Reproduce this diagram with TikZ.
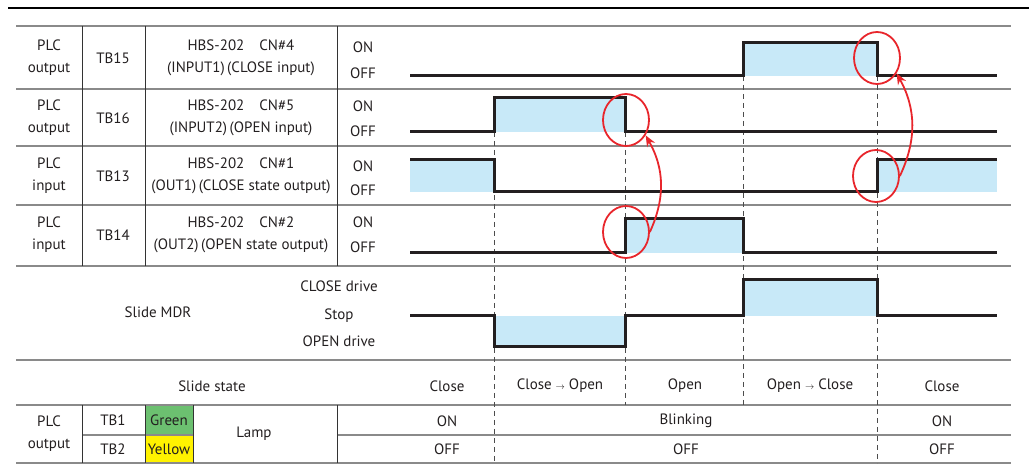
\documentclass[tikz,border=0pt]{standalone}
\usepackage{fontspec}
\setmainfont{PT Sans}
\usepackage{xcolor}
\usetikzlibrary{arrows.meta,shapes,calc,positioning}
\definecolor{sigfill}{HTML}{C8E9F8}
\definecolor{gridgray}{HTML}{8A8A8A}
\definecolor{lampgreen}{HTML}{6CC070}
\definecolor{lampyellow}{HTML}{FFF200}
\definecolor{ringred}{HTML}{E8262C}
\definecolor{inkblack}{HTML}{231F20}

\begin{document}
\begin{tikzpicture}[x=1pt,y=-1pt,
  txt/.style={font=\fontsize{15}{22}\selectfont, text=inkblack, inner sep=0pt, align=center},
  grid/.style={gridgray, line width=1.1pt},
  col/.style={black!80, line width=1pt},
  sig/.style={inkblack, line width=3pt},
  tick/.style={black!70, line width=0.9pt, dash pattern=on 5pt off 4pt},
  ring/.style={draw=ringred, line width=1.8pt, ellipse, minimum width=46pt, minimum height=52pt, inner sep=0pt},
  cause/.style={ringred, line width=1.8pt, -{Stealth[length=11pt,width=9pt]}}]
  \useasboundingbox (0,0) rectangle (1029,470);
  % Heading rule
  \draw[black, line width=2.5pt] (8,8) -- (1029,8);
  % Lamp colour cells
  \fill[lampgreen] (145,405) rectangle (193,435);
  \fill[lampyellow] (145,435) rectangle (193,463);
  % Row lines
  \foreach \y in {26,89,146,205,266,360,405,463}
    \draw[grid] (16,\y) -- (1011,\y);
  \draw[grid] (82,435) -- (193,435);
  \draw[grid] (337,435) -- (1011,435);
  % Column lines
  \draw[col] (82,26) -- (82,266) (145,26) -- (145,266) (337,26) -- (337,266);
  \draw[col] (82,405) -- (82,463) (145,405) -- (145,463) (193,405) -- (193,463) (337,405) -- (337,463);
  % Timing marks
  \draw[tick] (494,132) -- (494,463);
  \draw[tick] (625,132) -- (625,405);
  \draw[tick] (743,76) -- (743,405);
  \draw[tick] (877,76) -- (877,463);
  % TB15
  \fill[sigfill] (743,43) rectangle (877,76);
  \draw[sig] (410,76) -| (743,43) -| (877,76) -- (997,76);
  % TB16
  \fill[sigfill] (494,98) rectangle (625,132);
  \draw[sig] (410,132) -| (494,98) -| (625,132) -- (997,132);
  % TB13
  \fill[sigfill] (410,160) rectangle (494,192);
  \fill[sigfill] (877,160) rectangle (997,192);
  \draw[sig] (410,160) -| (494,192) -| (877,160) -- (997,160);
  % TB14
  \fill[sigfill] (625,219) rectangle (743,253);
  \draw[sig] (410,253) -| (625,219) -| (743,253) -- (997,253);
  % Slide MDR
  \fill[sigfill] (494,316) rectangle (625,347);
  \fill[sigfill] (743,280) rectangle (877,316);
  \draw[sig] (410,316) -| (494,347) -| (625,316) -| (743,280) -| (877,316) -- (997,316);
  % Row heads
  \node[txt] (plc1) at (49,58) {PLC\\output};
  \node[txt] (tb15) at (113,58) {TB15};
  \node[txt] (cn4) at (241,58) {HBS-202\hspace{1em}CN\#4\\(INPUT1)\,(CLOSE input)};
  \node[txt] (on1) at (363,47) {ON};
  \node[txt] (off1) at (363,73) {OFF};
  \node[txt] (plc2) at (49,118) {PLC\\output};
  \node[txt] (tb16) at (113,118) {TB16};
  \node[txt] (cn5) at (241,118) {HBS-202\hspace{1em}CN\#5\\(INPUT2)\,(OPEN input)};
  \node[txt] (on2) at (363,106) {ON};
  \node[txt] (off2) at (363,131) {OFF};
  \node[txt] (plc3) at (49,176) {PLC\\input};
  \node[txt] (tb13) at (113,176) {TB13};
  \node[txt] (cn1) at (241,176) {HBS-202\hspace{1em}CN\#1\\(OUT1)\,(CLOSE state output)};
  \node[txt] (on3) at (363,166) {ON};
  \node[txt] (off3) at (363,190) {OFF};
  \node[txt] (plc4) at (49,235) {PLC\\input};
  \node[txt] (tb14) at (113,235) {TB14};
  \node[txt] (cn2) at (241,235) {HBS-202\hspace{1em}CN\#2\\(OUT2)\,(OPEN state output)};
  \node[txt] (on4) at (363,222) {ON};
  \node[txt] (off4) at (363,247) {OFF};
  % Slide MDR labels
  \node[txt] (mdr) at (158,312) {Slide MDR};
  \node[txt] (cdrive) at (339,286) {CLOSE drive};
  \node[txt] (stop) at (339,316) {Stop};
  \node[txt] (odrive) at (339,341) {OPEN drive};
  % Slide state
  \node[txt] (state) at (212,386) {Slide state};
  \node[txt] (st1) at (447,386) {Close};
  \node[txt] (st2) at (560,386) {Close {\small$\rightarrow$} Open};
  \node[txt] (st3) at (685,386) {Open};
  \node[txt] (st4) at (810,386) {Open {\small$\rightarrow$} Close};
  \node[txt] (st5) at (942,386) {Close};
  % Lamp
  \node[txt] (plc5) at (49,434) {PLC\\output};
  \node[txt] (tb1) at (113,420) {TB1};
  \node[txt] (tb2) at (113,449) {TB2};
  \node[txt] (green) at (169,420) {Green};
  \node[txt] (yellow) at (169,449) {Yellow};
  \node[txt] (lamp) at (254,434) {Lamp};
  \node[txt] (g1) at (447,421) {ON};
  \node[txt] (g2) at (686,421) {Blinking};
  \node[txt] (g3) at (942,421) {ON};
  \node[txt] (y1) at (447,449) {OFF};
  \node[txt] (y2) at (686,449) {OFF};
  \node[txt] (y3) at (942,449) {OFF};
  % Rings and arrows
  \node[ring] (r1) at (877,58) {};
  \node[ring] (r2) at (626,120) {};
  \node[ring] (r3) at (876,176) {};
  \node[ring] (r4) at (626,232) {};
  \draw[cause] (r4.east) to[bend right=27] (r2.-38);
  \draw[cause] (r3.east) to[bend right=27] (r1.-38);
\end{tikzpicture}
\end{document}
